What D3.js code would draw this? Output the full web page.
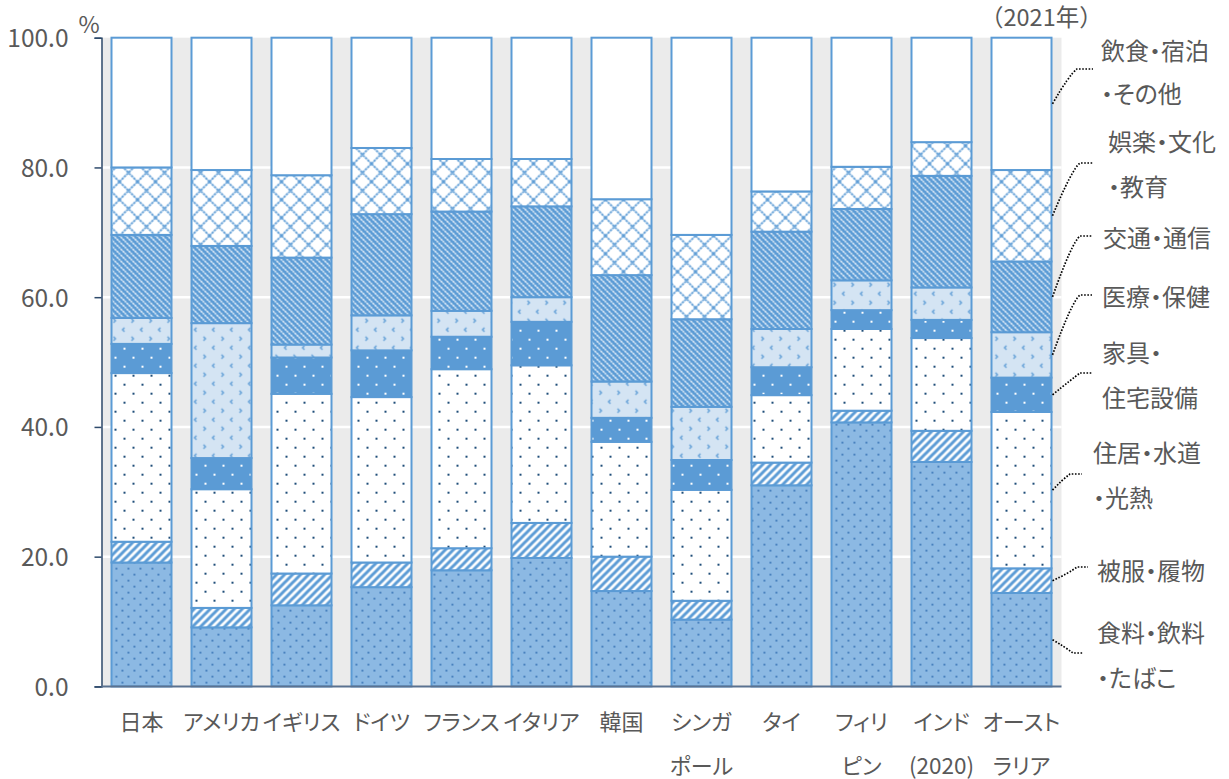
<!DOCTYPE html>
<html>
<head>
<meta charset="utf-8">
<script src="https://cdn.jsdelivr.net/npm/d3@7"></script>
<style>
  body { margin: 0; background: #fff; }
  text { font-family: "Noto Sans CJK JP", "Noto Sans", sans-serif; fill: #595959; font-feature-settings: "palt"; }
  text.full { font-feature-settings: normal; }
</style>
</head>
<body>
<div id="container"></div>
<script>
// data (%), 2021
var countries = ["日本","アメリカ","イギリス","ドイツ","フランス","イタリア","韓国","シンガポール","タイ","フィリピン","インド","オーストラリア"];
var countryLabels = [["日本"],["アメリカ"],["イギリス"],["ドイツ"],["フランス"],["イタリア"],["韓国"],["シンガ","ポール"],["タイ"],["フィリ","ピン"],["インド","(2020)"],["オースト","ラリア"]];
var categories = ["food","clothing","housing","furniture","health","transport","recreation","other"];
var legendLines = [["食料・飲料","・たばこ"],["被服・履物"],["住居・水道","・光熱"],["家具・","住宅設備"],["医療・保健"],["交通・通信"],["娯楽・文化","・教育"],["飲食・宿泊","・その他"]];

var food       = [19.1, 9.1,12.5,15.3,17.9,19.8,14.7,10.3,31.0,40.7,34.6,14.4];
var clothing   = [ 3.2, 3.0, 4.9, 3.8, 3.4, 5.4, 5.3, 2.9, 3.5, 1.8, 4.8, 3.8];
var housing    = [26.0,18.3,27.7,25.5,27.6,24.3,17.7,17.1,10.4,12.6,14.3,24.1];
var furniture  = [ 4.5, 4.8, 5.6, 7.2, 5.0, 6.7, 3.7, 4.6, 4.3, 2.9, 2.8, 5.3];
var health     = [ 4.0,20.8, 2.0, 5.4, 4.0, 3.8, 5.6, 8.2, 5.9, 4.6, 5.0, 7.0];
var transport  = [12.8,11.9,13.4,15.6,15.3,14.0,16.4,13.5,15.0,11.0,17.2,10.9];
var recreation = [10.4,11.7,12.7,10.2, 8.1, 7.3,11.7,13.0, 6.2, 6.5, 5.2,14.1];
var other      = [20.0,20.4,21.2,17.0,18.7,18.7,24.9,30.4,23.7,19.9,16.1,20.4];
var yTicks = [0,20,40,60,80,100];

var series = {food:food, clothing:clothing, housing:housing, furniture:furniture,
  health:health, transport:transport, recreation:recreation, other:other};
var table = countries.map(function(c,i){
  var row = {country:c};
  categories.forEach(function(k){ row[k] = series[k][i]; });
  return row;
});

// layout
var W = 1229, H = 779;
var margin = {top: 37.7, right: 167.5, bottom: 92.6, left: 101.5};
var width = W - margin.left - margin.right;
var height = H - margin.top - margin.bottom;
var blue = "#5b9bd5";

// label anchor points (relative to svg), leader knee
var legendPos = [
  {x:1097, y:633, dy:45, kx:1073, ky:653, ex:1083},
  {x:1097, y:571, dy:45, kx:1077, ky:567, ex:1088},
  {x:1093, y:453, dy:45, kx:1070, ky:474, ex:1082},
  {x:1102, y:353, dy:45, kx:1080, ky:373, ex:1092},
  {x:1102, y:297, dy:45, kx:1080, ky:295, ex:1092},
  {x:1103, y:238, dy:45, kx:1080, ky:236, ex:1092},
  {x:1108, y:142, dy:45, kx:1080, ky:163, ex:1093},
  {x:1101, y:51,  dy:43, kx:1077, ky:69,  ex:1093}
];

var x = d3.scaleBand().domain(countries).range([0,width]).paddingInner(0.225).paddingOuter(0.1125);
var y = d3.scaleLinear().domain([0,100]).range([height,0]);

var svg0 = d3.select("#container").append("svg")
  .attr("width", W).attr("height", H);

// patterns
var defs = svg0.append("defs");
function pat(id, w, h, bg){
  var p = defs.append("pattern").attr("id", id).attr("patternUnits","userSpaceOnUse")
    .attr("width", w).attr("height", h);
  p.append("rect").attr("width", w).attr("height", h).attr("fill", bg);
  return p;
}
var p;
p = pat("p-food", 12, 12, "#8cb9e3");
[[2,2],[8,8]].forEach(function(d){ p.append("rect").attr("x",d[0]).attr("y",d[1]).attr("width",1.8).attr("height",1.8).attr("fill","#3d78b8"); });

p = pat("p-clothing", 8, 8, "#ffffff");
p.append("path").attr("d","M-2,2 L2,-2 M0,8 L8,0 M6,10 L10,6").attr("stroke",blue).attr("stroke-width",3);

p = pat("p-housing", 18, 18, "#ffffff");
[[4,4],[13,13]].forEach(function(d){ p.append("rect").attr("x",d[0]).attr("y",d[1]).attr("width",2).attr("height",2).attr("fill","#1f4e79"); });

p = pat("p-furniture", 18, 18, blue);
[[4,4],[13,13]].forEach(function(d){ p.append("rect").attr("x",d[0]).attr("y",d[1]).attr("width",2).attr("height",2).attr("fill","#ffffff"); });

p = pat("p-health", 18, 18, "#d4e4f3");
p.append("path").attr("d","M5,2 L3,4 L5,6 M12,11 L14,13 L12,15").attr("stroke",blue).attr("stroke-width",1.3).attr("fill","none");

p = pat("p-transport", 6, 6, blue);
p.append("path").attr("d","M-1,-1 L7,7 M-1,5 L1,7 M5,-1 L7,1").attr("stroke","#ffffff").attr("stroke-width",1.4).attr("stroke-dasharray","2.2,0.8");

p = pat("p-recreation", 18, 18, "#ffffff");
p.append("path").attr("d","M0,0 L18,18 M18,0 L0,18").attr("stroke",blue).attr("stroke-width",1.8).attr("stroke-dasharray","2.5,0.8");

p = pat("p-other", 8, 8, "#ffffff");

var svg = svg0.append("g").attr("transform","translate(" + margin.left + "," + margin.top + ")");

// plot background + grid
svg.append("rect").attr("x",0).attr("y",0).attr("width",width).attr("height",height).attr("fill","#ebebeb");
svg.selectAll(".grid").data(yTicks.filter(function(t){ return t>0 && t<100; }))
  .enter().append("line")
  .attr("x1",0).attr("x2",width)
  .attr("y1",function(d){ return y(d); }).attr("y2",function(d){ return y(d); })
  .attr("stroke","#ffffff").attr("stroke-width",2.5);

// bars
var stack = d3.stack().keys(categories);
var layers = stack(table);
svg.selectAll(".layer").data(layers).enter().append("g")
  .attr("class","layer")
  .attr("fill", function(d){ return "url(#p-" + d.key + ")"; })
  .selectAll("rect").data(function(d){ return d; }).enter().append("rect")
  .attr("x", function(d){ return x(d.data.country) + 1; })
  .attr("width", x.bandwidth() - 2)
  .attr("y", function(d){ return y(d[1]); })
  .attr("height", function(d){ return y(d[0]) - y(d[1]); })
  .attr("stroke", blue).attr("stroke-width", 2);

// axes
var yAxis = d3.axisLeft(y).tickValues(yTicks).tickSize(7).tickFormat(d3.format(".1f"));
var gy = svg.append("g").call(yAxis);
gy.select(".domain").attr("stroke","#2f4b6c").attr("stroke-width",1.5);
gy.selectAll(".tick line").attr("stroke","#2f4b6c").attr("stroke-width",1.5);
gy.selectAll(".tick text").attr("x",-33).style("font-size","24.5px").attr("fill","#595959").attr("dy","0.36em");

svg.append("line").attr("x1",0).attr("x2",width).attr("y1",height).attr("y2",height)
  .attr("stroke","#5b7290").attr("stroke-width",2);

// x labels
countryLabels.forEach(function(lines,i){
  var cx = x(countries[i]) + x.bandwidth()/2;
  lines.forEach(function(t,j){
    svg.append("text").attr("x",cx).attr("y",height + 36 + j*44)
      .attr("text-anchor","middle").attr("dy","0.36em")
      .style("font-size", /^\(/.test(t) ? "22.5px" : "22px").text(t);
  });
});

svg0.append("text").attr("x",89).attr("y",25).attr("text-anchor","middle").attr("dy","0.36em")
  .style("font-size","23px").text("%");
svg0.append("text").attr("class","full").attr("x",980).attr("y",18).attr("dy","0.36em")
  .style("font-size","23.5px").text("（2021年）");

// legend with leader lines from last bar
var last = layers.map(function(l){ return l[l.length-1]; });
var bx = margin.left + x(countries[countries.length-1]) + x.bandwidth();
legendPos.forEach(function(pos,k){
  var seg = last[k];
  var by = margin.top + y((seg[0]+seg[1])/2);
  svg0.append("path")
    .attr("d","M" + bx + "," + by + " Q" + (pos.kx-8) + "," + (pos.ky + (by>pos.ky?6:-6)) + " " + pos.kx + "," + pos.ky + " L" + pos.ex + "," + pos.ky)
    .attr("fill","none").attr("stroke","#000").attr("stroke-width",1.7).attr("stroke-dasharray","1.6,1.6");
  legendLines[k].forEach(function(t,j){
    svg0.append("text").attr("x",pos.x).attr("y",pos.y + j*pos.dy).attr("dy","0.36em")
      .style("font-size","24px").text(t);
  });
});
</script>
</body>
</html>
